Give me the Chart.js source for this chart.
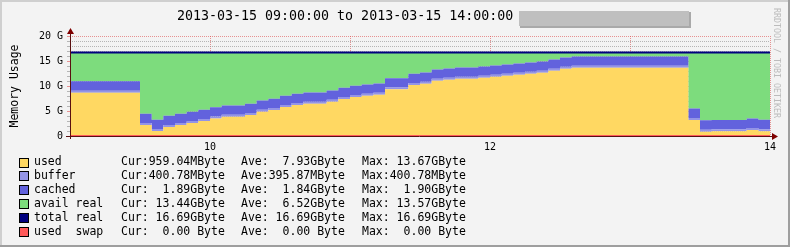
<!DOCTYPE html>
<html>
<head>
<meta charset="utf-8">
<script src="https://cdn.jsdelivr.net/npm/chart.js@4/dist/chart.umd.min.js"></script>
<style>
  html, body { margin: 0; padding: 0; background: #f3f3f3; }
  canvas { display: block; }
</style>
</head>
<body>
<canvas id="memChart" width="790" height="247"></canvas>
<script>
// 5 minute steps from 09:00 to 14:00 (60 steps), values in GByte
var stepStart = 9;
var stepHours = 5 / 60;

var used = [
  8.67, 8.67, 8.67, 8.67, 8.67, 8.67, 2.20, 1.00, 1.80, 2.20, 2.60, 3.00,
  3.50, 3.87, 3.87, 4.20, 4.87, 5.20, 5.80, 6.20, 6.47, 6.47, 6.87, 7.40,
  7.80, 8.07, 8.27, 9.33, 9.33, 10.20, 10.47, 11.07, 11.27, 11.47, 11.47, 11.67,
  11.87, 12.07, 12.27, 12.47, 12.67, 13.07, 13.47, 13.67, 13.67, 13.67, 13.67, 13.67,
  13.67, 13.67, 13.67, 13.67, 13.67, 3.20, 0.85, 0.94, 0.94, 0.94, 1.20, 0.96
];
var buffer = [
  0.39, 0.39, 0.39, 0.39, 0.39, 0.39, 0.39, 0.39, 0.39, 0.39, 0.39, 0.39,
  0.39, 0.39, 0.39, 0.39, 0.39, 0.39, 0.39, 0.39, 0.39, 0.39, 0.39, 0.39,
  0.39, 0.39, 0.39, 0.39, 0.39, 0.39, 0.39, 0.39, 0.39, 0.39, 0.39, 0.39,
  0.39, 0.39, 0.39, 0.39, 0.39, 0.39, 0.39, 0.39, 0.39, 0.39, 0.39, 0.39,
  0.39, 0.39, 0.39, 0.39, 0.39, 0.39, 0.39, 0.39, 0.39, 0.39, 0.39, 0.39
];
var cached = [
  1.90, 1.90, 1.90, 1.90, 1.90, 1.90, 1.84, 1.84, 1.84, 1.84, 1.84, 1.84,
  1.84, 1.84, 1.84, 1.84, 1.84, 1.84, 1.84, 1.84, 1.84, 1.84, 1.84, 1.84,
  1.84, 1.84, 1.84, 1.84, 1.84, 1.84, 1.84, 1.84, 1.84, 1.84, 1.84, 1.84,
  1.84, 1.84, 1.84, 1.84, 1.84, 1.84, 1.84, 1.84, 1.84, 1.84, 1.84, 1.84,
  1.84, 1.84, 1.84, 1.84, 1.84, 1.89, 1.89, 1.89, 1.89, 1.89, 1.89, 1.89
];
var availReal = [
  5.73, 5.73, 5.73, 5.73, 5.73, 5.73, 12.26, 13.46, 12.66, 12.26, 11.86, 11.46,
  10.96, 10.59, 10.59, 10.26, 9.59, 9.26, 8.66, 8.26, 7.99, 7.99, 7.59, 7.06,
  6.66, 6.39, 6.19, 5.13, 5.13, 4.26, 3.99, 3.39, 3.19, 2.99, 2.99, 2.79,
  2.59, 2.39, 2.19, 1.99, 1.79, 1.39, 0.99, 0.79, 0.79, 0.79, 0.79, 0.79,
  0.79, 0.79, 0.79, 0.79, 0.79, 11.21, 13.56, 13.47, 13.47, 13.47, 13.21, 13.44
];
var totalReal = [
  16.69, 16.69, 16.69, 16.69, 16.69, 16.69, 16.69, 16.69, 16.69, 16.69, 16.69, 16.69,
  16.69, 16.69, 16.69, 16.69, 16.69, 16.69, 16.69, 16.69, 16.69, 16.69, 16.69, 16.69,
  16.69, 16.69, 16.69, 16.69, 16.69, 16.69, 16.69, 16.69, 16.69, 16.69, 16.69, 16.69,
  16.69, 16.69, 16.69, 16.69, 16.69, 16.69, 16.69, 16.69, 16.69, 16.69, 16.69, 16.69,
  16.69, 16.69, 16.69, 16.69, 16.69, 16.69, 16.69, 16.69, 16.69, 16.69, 16.69, 16.69
];
var usedSwap = [
  0, 0, 0, 0, 0, 0, 0, 0, 0, 0, 0, 0, 0, 0, 0, 0, 0, 0, 0, 0,
  0, 0, 0, 0, 0, 0, 0, 0, 0, 0, 0, 0, 0, 0, 0, 0, 0, 0, 0, 0,
  0, 0, 0, 0, 0, 0, 0, 0, 0, 0, 0, 0, 0, 0, 0, 0, 0, 0, 0, 0
];

var seriesNames = ["used", "buffer", "cached", "avail real", "total real", "used  swap"];
var curTexts = ["Cur:959.04MByte", "Cur:400.78MByte", "Cur:  1.89GByte", "Cur: 13.44GByte", "Cur: 16.69GByte", "Cur:  0.00 Byte"];
var aveTexts = ["Ave:  7.93GByte", "Ave:395.87MByte", "Ave:  1.84GByte", "Ave:  6.52GByte", "Ave: 16.69GByte", "Ave:  0.00 Byte"];
var maxTexts = ["Max: 13.67GByte", "Max:400.78MByte", "Max:  1.90GByte", "Max: 13.57GByte", "Max: 16.69GByte", "Max:  0.00 Byte"];

var titleText = "2013-03-15 09:00:00 to 2013-03-15 14:00:00";
var yTitle = "Memory Usage";
var sideText = "RRDTOOL / TOBI OETIKER";

var colUsed = "#ffd862";
var colBuffer = "#9494e6";
var colCached = "#6262dd";
var colAvail = "#7ddc7d";
var colTotal = "#00007f";
var colSwap = "#ff5a5a";
var mono = "'DejaVu Sans Mono', monospace";

// step points: value i held from start of step i to start of step i+1
function steps(arr) {
  var pts = arr.map(function (v, i) { return {x: stepStart + i * stepHours, y: v}; });
  pts.push({x: stepStart + arr.length * stepHours, y: arr[arr.length - 1]});
  return pts;
}

var rrdDecor = {
  id: "rrdDecor",
  beforeDraw: function (chart) {
    var c = chart.ctx, w = chart.width, h = chart.height;
    c.save();
    c.fillStyle = "#f3f3f3";
    c.fillRect(0, 0, w, h);
    c.fillStyle = "#cfcfcf";
    c.fillRect(0, 0, w, 2);
    c.fillRect(0, 0, 2, h);
    c.fillStyle = "#9e9e9e";
    c.fillRect(0, h - 2, w, 2);
    c.fillRect(w - 2, 0, 2, h);
    c.restore();
  },
  afterDraw: function (chart) {
    var c = chart.ctx, a = chart.chartArea;
    c.save();
    // axes
    c.strokeStyle = "#5a1010";
    c.lineWidth = 1;
    c.beginPath();
    c.moveTo(a.left - 4, a.bottom + 0.5);
    c.lineTo(a.right + 3, a.bottom + 0.5);
    c.moveTo(a.left + 0.5, a.bottom + 3);
    c.lineTo(a.left + 0.5, a.top - 3);
    c.stroke();
    c.fillStyle = "#7f0000";
    c.beginPath();
    c.moveTo(a.right + 8, a.bottom + 0.5);
    c.lineTo(a.right + 2, a.bottom - 3);
    c.lineTo(a.right + 2, a.bottom + 4);
    c.closePath();
    c.fill();
    c.beginPath();
    c.moveTo(a.left + 0.5, a.top - 8);
    c.lineTo(a.left - 3, a.top - 2);
    c.lineTo(a.left + 4, a.top - 2);
    c.closePath();
    c.fill();

    // title + blanked box
    c.fillStyle = "#000";
    c.font = "13.3px " + mono;
    c.textBaseline = "middle";
    c.textAlign = "left";
    c.fillText(titleText, 177, 17);
    c.fillStyle = "#a9a9a9";
    c.fillRect(520, 12, 171, 16);
    c.fillStyle = "#bfbfbf";
    c.fillRect(519, 11, 170, 15);

    // side text
    c.save();
    c.translate(776, 8);
    c.rotate(Math.PI / 2);
    c.fillStyle = "#bcbcbc";
    c.font = "8.3px " + mono;
    c.textBaseline = "middle";
    c.fillText(sideText, 0, 0);
    c.restore();

    // legend
    c.font = "11.5px " + mono;
    c.textBaseline = "middle";
    chart.data.datasets.forEach(function (ds, i) {
      var yc = 162.5 + i * 13.9;
      var top = Math.round(yc) - 5;
      c.fillStyle = ds.boxColor;
      c.fillRect(19, top, 10, 10);
      c.strokeStyle = "#000";
      c.lineWidth = 1;
      c.strokeRect(19.5, top + 0.5, 9, 9);
      c.fillStyle = "#000";
      c.fillText(ds.label, 34, yc);
      c.fillText(curTexts[i], 121, yc);
      c.fillText(aveTexts[i], 241, yc);
      c.fillText(maxTexts[i], 362, yc);
    });
    c.restore();
  }
};

var ctx = document.getElementById("memChart").getContext("2d");
var myChart = new Chart(ctx, {
  type: "line",
  data: {
    datasets: [
      {label: seriesNames[0], data: steps(used), backgroundColor: colUsed, boxColor: colUsed, borderWidth: 0, fill: "origin", stack: "mem"},
      {label: seriesNames[1], data: steps(buffer), backgroundColor: colBuffer, boxColor: colBuffer, borderWidth: 0, fill: "-1", stack: "mem"},
      {label: seriesNames[2], data: steps(cached), backgroundColor: colCached, boxColor: colCached, borderWidth: 0, fill: "-1", stack: "mem"},
      {label: seriesNames[3], data: steps(availReal), backgroundColor: colAvail, boxColor: colAvail, borderWidth: 0, fill: "-1", stack: "mem"},
      {label: seriesNames[4], data: steps(totalReal), borderColor: colTotal, boxColor: colTotal, borderWidth: 2, fill: false, stack: "total", order: -1},
      {label: seriesNames[5], data: steps(usedSwap), borderColor: colSwap, boxColor: colSwap, borderWidth: 2, fill: false, stack: "swap", order: -2}
    ]
  },
  options: {
    responsive: false,
    animation: false,
    devicePixelRatio: 1,
    layout: {padding: {left: 0, right: 20, top: 36, bottom: 0}},
    elements: {
      point: {radius: 0},
      line: {tension: 0, stepped: true, borderCapStyle: "butt"}
    },
    plugins: {
      legend: {display: false},
      tooltip: {enabled: false},
      title: {display: false}
    },
    scales: {
      x: {
        type: "linear",
        min: 9,
        max: 14,
        z: 1,
        afterFit: function (s) { s.height = 111; },
        ticks: {
          stepSize: 1,
          autoSkip: false,
          maxRotation: 0,
          padding: 5,
          color: "#000",
          font: {family: mono, size: 10},
          callback: function (v) { return v % 2 === 0 ? String(v) : ""; }
        },
        grid: {color: "rgba(222,80,80,0.6)", drawTicks: false},
        border: {display: false, dash: [1, 1]}
      },
      y: {
        stacked: true,
        min: 0,
        max: 20,
        z: 1,
        afterFit: function (s) { s.width = 70; },
        ticks: {
          stepSize: 1,
          autoSkip: false,
          padding: 4,
          color: "#000",
          font: {family: mono, size: 10},
          callback: function (v) {
            if (v % 5 !== 0) return "";
            return v === 0 ? "0" : v + " G";
          }
        },
        grid: {
          tickLength: 3,
          color: function (c) {
            return c.tick && c.tick.value % 5 === 0 ? "rgba(222,80,80,0.6)" : "rgba(140,140,140,0.6)";
          }
        },
        border: {display: false, dash: [1, 1]},
        title: {
          display: true,
          text: yTitle,
          color: "#000",
          font: {family: mono, size: 11.5},
          padding: {top: 8, bottom: 0}
        }
      }
    }
  },
  plugins: [rrdDecor]
});
</script>
</body>
</html>
